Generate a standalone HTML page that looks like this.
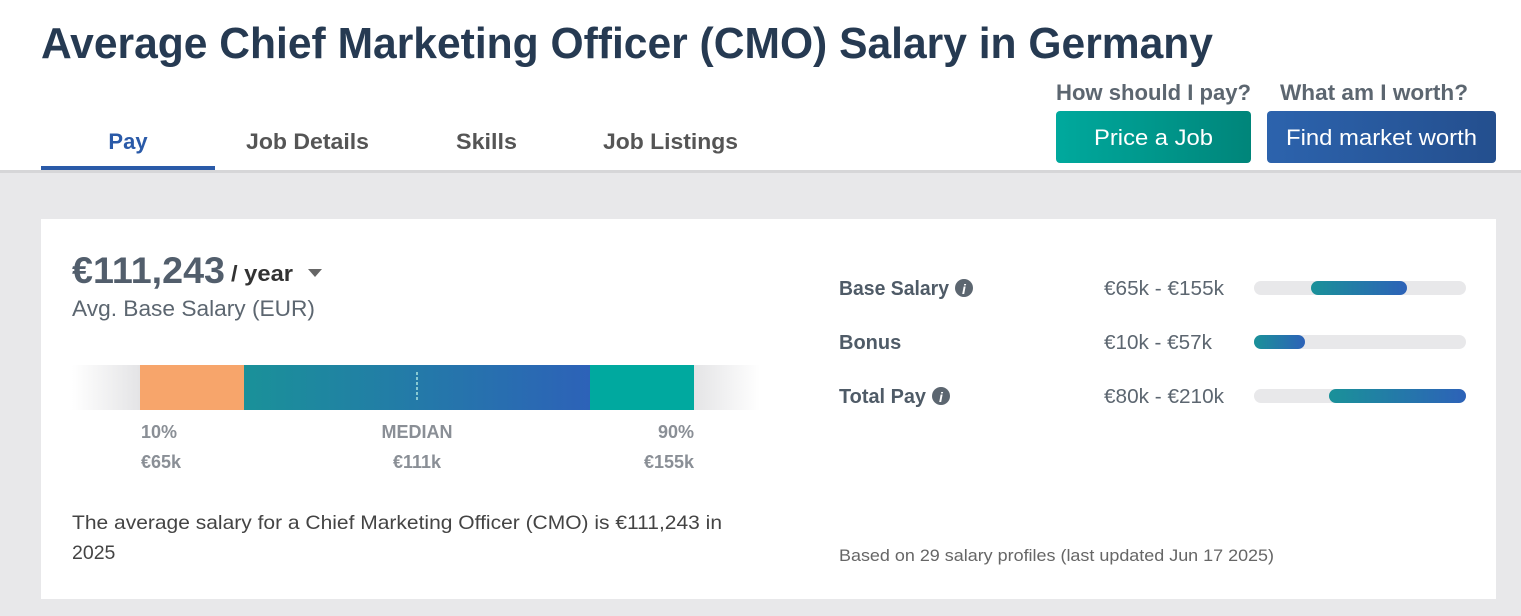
<!DOCTYPE html>
<html><head><meta charset="utf-8"><style>
html,body{margin:0;padding:0;width:1521px;height:616px;overflow:hidden;background:#e8e8ea}
svg{display:block}
text{font-family:"Liberation Sans",Arial,sans-serif}
</style></head><body>
<svg width="1521" height="616" viewBox="0 0 1521 616" xmlns="http://www.w3.org/2000/svg">
<defs>
<linearGradient id="tg" x1="0" x2="1"><stop offset="0" stop-color="#00a99d"/><stop offset="1" stop-color="#00857a"/></linearGradient>
<linearGradient id="bg" x1="0" x2="1"><stop offset="0" stop-color="#2c63ad"/><stop offset="1" stop-color="#244f8e"/></linearGradient>
<linearGradient id="mg" x1="0" x2="1"><stop offset="0" stop-color="#1a9199"/><stop offset="1" stop-color="#2d62b8"/></linearGradient>
<linearGradient id="fl" x1="0" x2="1"><stop offset="0" stop-color="#fff"/><stop offset="1" stop-color="#e4e4e6"/></linearGradient>
<linearGradient id="fr" x1="0" x2="1"><stop offset="0" stop-color="#e4e4e6"/><stop offset="1" stop-color="#fff"/></linearGradient>
</defs>
<rect x="0" y="0" width="1521" height="170" fill="#fff"/>
<rect x="0" y="170" width="1521" height="3" fill="#d6d6d8"/>
<text x="41" y="58" font-size="44" font-weight="bold" fill="#263a52" textLength="1172" lengthAdjust="spacingAndGlyphs">Average Chief Marketing Officer (CMO) Salary in Germany</text>
<text x="128" y="149" font-size="22" font-weight="bold" fill="#2a5aa8" text-anchor="middle">Pay</text>
<rect x="41" y="166" width="174" height="4" fill="#2a5aa8"/>
<text x="246" y="149" font-size="22" font-weight="bold" fill="#555" textLength="123" lengthAdjust="spacingAndGlyphs">Job Details</text>
<text x="456" y="149" font-size="22" font-weight="bold" fill="#555" textLength="61" lengthAdjust="spacingAndGlyphs">Skills</text>
<text x="603" y="149" font-size="22" font-weight="bold" fill="#555" textLength="135" lengthAdjust="spacingAndGlyphs">Job Listings</text>
<text x="1056" y="100" font-size="22" font-weight="bold" fill="#5c6670" textLength="195" lengthAdjust="spacingAndGlyphs">How should I pay?</text>
<text x="1280" y="100" font-size="22" font-weight="bold" fill="#5c6670" textLength="188" lengthAdjust="spacingAndGlyphs">What am I worth?</text>
<rect x="1056" y="111" width="195" height="52" rx="4" fill="url(#tg)"/>
<text x="1153.5" y="145" font-size="22" fill="#fff" text-anchor="middle" textLength="119" lengthAdjust="spacingAndGlyphs">Price a Job</text>
<rect x="1267" y="111" width="229" height="52" rx="4" fill="url(#bg)"/>
<text x="1381.5" y="145" font-size="22" fill="#fff" text-anchor="middle" textLength="191" lengthAdjust="spacingAndGlyphs">Find market worth</text>
<rect x="41" y="219" width="1455" height="380" fill="#fff"/>
<text x="72" y="283" font-size="37" font-weight="bold" fill="#525e6c" textLength="153" lengthAdjust="spacingAndGlyphs">€111,243</text>
<text x="231" y="281" font-size="22" font-weight="bold" fill="#333" textLength="62" lengthAdjust="spacingAndGlyphs">/ year</text>
<polygon points="308,269 322,269 315,277" fill="#666"/>
<text x="72" y="316" font-size="22" fill="#5c6670" textLength="243" lengthAdjust="spacingAndGlyphs">Avg. Base Salary (EUR)</text>
<rect x="72" y="365" width="68" height="45" fill="url(#fl)"/>
<rect x="140" y="365" width="104" height="45" fill="#f7a56b"/>
<rect x="244" y="365" width="347" height="45" fill="url(#mg)"/>
<rect x="590" y="365" width="104" height="45" fill="#00a99f"/>
<rect x="694" y="365" width="66" height="45" fill="url(#fr)"/>
<line x1="417" y1="372" x2="417" y2="402" stroke="#cfe" stroke-width="1.2" stroke-dasharray="3,2"/>
<g font-size="18" font-weight="bold" fill="#8a8f96">
<text x="141" y="438">10%</text>
<text x="417" y="438" text-anchor="middle">MEDIAN</text>
<text x="694" y="438" text-anchor="end">90%</text>
<text x="141" y="468">€65k</text>
<text x="417" y="468" text-anchor="middle">€111k</text>
<text x="694" y="468" text-anchor="end">€155k</text>
</g>
<text x="72" y="529" font-size="19.5" fill="#444" textLength="650" lengthAdjust="spacingAndGlyphs">The average salary for a Chief Marketing Officer (CMO) is €111,243 in</text>
<text x="72" y="559" font-size="19.5" fill="#444">2025</text>
<g font-size="20" font-weight="bold" fill="#4f5b67">
<text x="839" y="295" textLength="110" lengthAdjust="spacingAndGlyphs">Base Salary</text>
<text x="839" y="349">Bonus</text>
<text x="839" y="403" textLength="87" lengthAdjust="spacingAndGlyphs">Total Pay</text>
</g>
<circle cx="964" cy="288" r="9" fill="#5c6670"/><text x="964" y="294" font-size="14" font-weight="bold" font-style="italic" fill="#fff" text-anchor="middle">i</text>
<circle cx="941" cy="396" r="9" fill="#5c6670"/><text x="941" y="402" font-size="14" font-weight="bold" font-style="italic" fill="#fff" text-anchor="middle">i</text>
<g font-size="20" fill="#5c6670">
<text x="1104" y="295" textLength="120" lengthAdjust="spacingAndGlyphs">€65k - €155k</text>
<text x="1104" y="349" textLength="108" lengthAdjust="spacingAndGlyphs">€10k - €57k</text>
<text x="1104" y="403" textLength="120" lengthAdjust="spacingAndGlyphs">€80k - €210k</text>
</g>
<rect x="1254" y="281" width="212" height="14" rx="7" fill="#e8e8ea"/>
<rect x="1311" y="281" width="96" height="14" rx="7" fill="url(#mg)"/>
<rect x="1254" y="335" width="212" height="14" rx="7" fill="#e8e8ea"/>
<rect x="1254" y="335" width="51" height="14" rx="7" fill="url(#mg)"/>
<rect x="1254" y="389" width="212" height="14" rx="7" fill="#e8e8ea"/>
<rect x="1329" y="389" width="137" height="14" rx="7" fill="url(#mg)"/>
<text x="839" y="561" font-size="17" fill="#666" textLength="435" lengthAdjust="spacingAndGlyphs">Based on 29 salary profiles (last updated Jun 17 2025)</text>
</svg>
</body></html>
